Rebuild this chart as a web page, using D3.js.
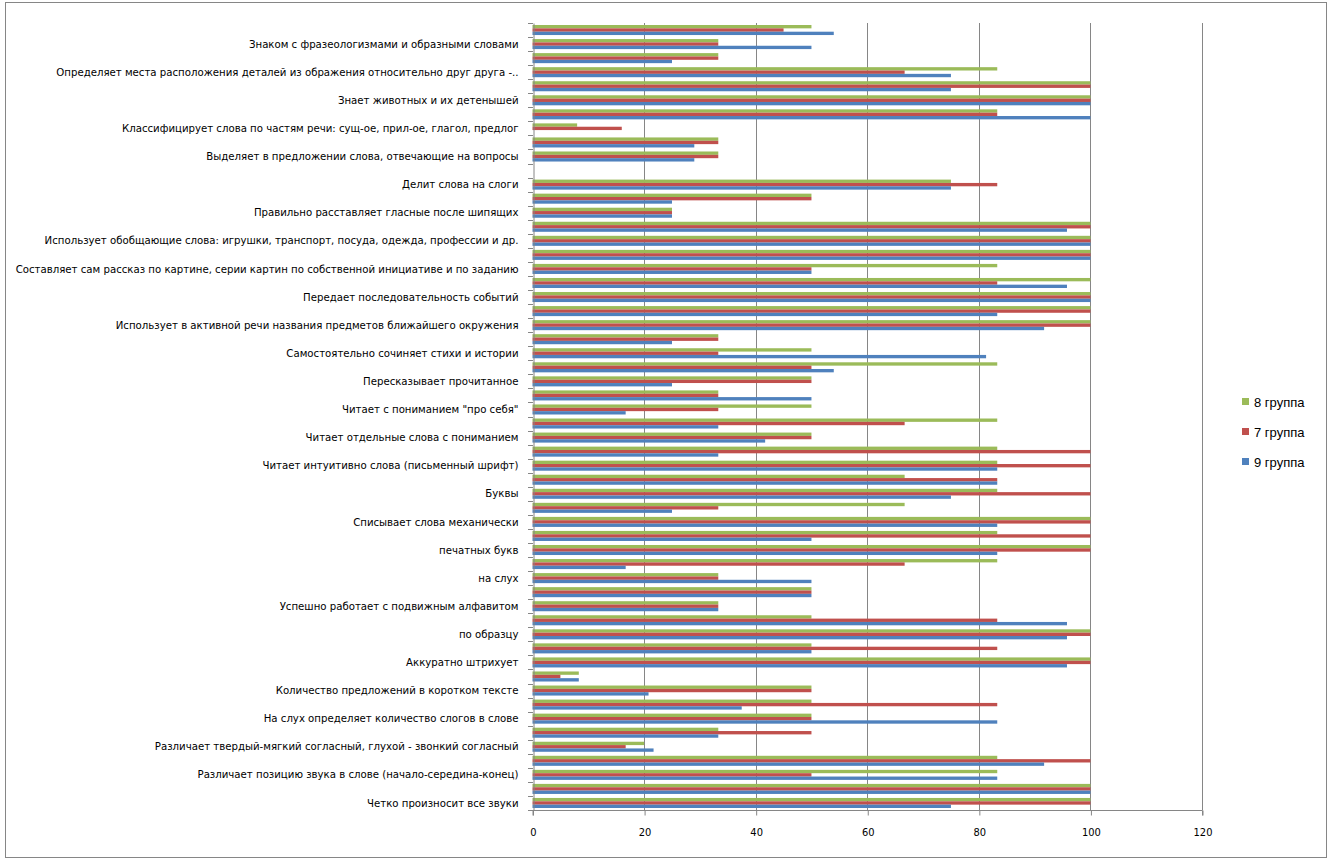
<!DOCTYPE html>
<html>
<head>
<meta charset="utf-8">
<script src="https://cdn.jsdelivr.net/npm/d3@7"></script>
<style>
  body { margin: 0; background: #fff; }
  svg text { fill: #000; }
</style>
</head>
<body>
<svg id="chart" width="1329" height="862"></svg>
<script>
// categories listed top to bottom as they appear; every second label is hidden in the original
const labels = [
  "", "Знаком с фразеологизмами и образными словами",
  "", "Определяет места расположения деталей из ображения относительно друг друга -..",
  "", "Знает животных и их детенышей",
  "", "Классифицирует слова по частям речи: сущ-ое, прил-ое, глагол, предлог",
  "", "Выделяет в предложении слова, отвечающие на вопросы",
  "", "Делит слова на слоги",
  "", "Правильно расставляет гласные после шипящих",
  "", "Использует обобщающие слова: игрушки, транспорт, посуда, одежда, профессии  и др.",
  "", "Составляет сам рассказ по картине, серии картин по собственной инициативе и по заданию",
  "", "Передает последовательность событий",
  "", "Использует в активной речи названия предметов ближайшего окружения",
  "", "Самостоятельно сочиняет стихи и истории",
  "", "Пересказывает прочитанное",
  "", "Читает с пониманием \"про себя\"",
  "", "Читает отдельные слова с пониманием",
  "", "Читает интуитивно слова (письменный шрифт)",
  "", "Буквы",
  "", "Списывает слова механически",
  "", "печатных букв",
  "", "на слух",
  "", "Успешно работает с подвижным алфавитом",
  "", "по образцу",
  "", "Аккуратно штрихует",
  "", "Количество предложений в коротком тексте",
  "", "На слух определяет количество слогов в слове",
  "", "Различает твердый-мягкий согласный, глухой - звонкий согласный",
  "", "Различает позицию звука в слове (начало-середина-конец)",
  "", "Четко произносит все звуки"
];

const group8 = [50, 33.3, 33.3, 83.3, 100, 100, 83.3, 8, 33.3, 33.3, 0, 75, 50, 25,
  100, 100, 100, 83.3, 100, 100, 100, 100, 33.3, 50, 83.3, 50, 33.3, 50, 83.3, 50,
  83.3, 83.3, 66.7, 83.3, 66.7, 100, 83.3, 100, 83.3, 33.3, 50, 33.3, 50, 100, 50,
  100, 8.3, 50, 50, 50, 33.3, 20, 83.3, 83.3, 100, 100];
const group7 = [45, 33.3, 33.3, 66.7, 100, 100, 83.3, 16, 33.3, 33.3, 0, 83.3, 50, 25,
  100, 100, 100, 50, 83.3, 100, 100, 100, 33.3, 33.3, 50, 50, 33.3, 33.3, 66.7, 50,
  100, 100, 83.3, 100, 33.3, 100, 100, 100, 66.7, 33.3, 50, 33.3, 83.3, 100, 83.3,
  100, 5, 50, 83.3, 50, 50, 16.7, 100, 50, 100, 100];
const group9 = [54, 50, 25, 75, 75, 100, 100, 0, 29, 29, 0, 75, 25, 25,
  95.8, 100, 100, 50, 95.8, 100, 83.3, 91.7, 25, 81.3, 54, 25, 50, 16.7, 33.3, 41.7,
  33.3, 83.3, 83.3, 75, 25, 83.3, 50, 83.3, 16.7, 50, 50, 33.3, 95.8, 95.8, 50,
  95.8, 8.3, 20.8, 37.5, 83.3, 33.3, 21.7, 91.7, 83.3, 100, 75];

const xTicks = [0, 20, 40, 60, 80, 100, 120];

// bars are stacked green / red / blue inside each category, legend lists them the same way
const series = [
  { name: "8 группа", color: "#9BBB59", values: group8 },
  { name: "7 группа", color: "#C0504D", values: group7 },
  { name: "9 группа", color: "#4F81BD", values: group9 }
];

const svg = d3.select("#chart");
const plot = { left: 532.5, right: 1202, top: 23, bottom: 810 };
const gridColor = "#868686";

// chart area border
svg.append("rect")
  .attr("x", 5.5).attr("y", 2.5)
  .attr("width", 1321).attr("height", 855)
  .attr("fill", "#fff")
  .attr("stroke", "#868686")
  .attr("stroke-width", 1);

let x = d3.scaleLinear().domain([0, 120]).range([plot.left, plot.right]);
let y = d3.scaleBand().domain(d3.range(labels.length)).range([plot.top, plot.bottom]);
let inner = d3.scaleBand().domain(d3.range(series.length))
  .range([0, y.bandwidth()]).paddingOuter(0.6);

// vertical gridlines
svg.append("g")
  .selectAll("line")
  .data(xTicks.slice(1))
  .join("line")
  .attr("x1", (d) => Math.round(x(d)) + 0.5)
  .attr("x2", (d) => Math.round(x(d)) + 0.5)
  .attr("y1", plot.top)
  .attr("y2", plot.bottom)
  .attr("stroke", gridColor)
  .attr("stroke-width", 1);

// bars
series.forEach((s, si) => {
  svg.append("g")
    .selectAll("rect")
    .data(s.values)
    .join("rect")
    .attr("x", x(0))
    .attr("y", (d, i) => y(i) + inner(si))
    .attr("width", (d) => x(d) - x(0))
    .attr("height", inner.bandwidth())
    .attr("fill", s.color);
});

// category axis
let yAxis = d3.axisLeft(y).tickSize(0).tickFormat((i) => labels[i]).tickPadding(15);
let yg = svg.append("g")
  .attr("transform", `translate(${Math.round(plot.left) + 0.5},0)`)
  .call(yAxis);
yg.select(".domain").attr("stroke", gridColor);
yg.selectAll("text")
  .style("font-family", "'Liberation Sans Narrow', 'DejaVu Sans Condensed', sans-serif")
  .style("font-size", "11.3px");

// tick marks between categories
svg.append("g")
  .selectAll("line")
  .data(d3.range(labels.length + 1))
  .join("line")
  .attr("x1", Math.round(plot.left) - 5)
  .attr("x2", Math.round(plot.left))
  .attr("y1", (i) => Math.round(plot.top + i * y.step()) + 0.5)
  .attr("y2", (i) => Math.round(plot.top + i * y.step()) + 0.5)
  .attr("stroke", gridColor);

// value axis
let xAxis = d3.axisBottom(x).tickValues(xTicks).tickSize(5).tickPadding(13);
let xg = svg.append("g")
  .attr("transform", `translate(0.5,${Math.round(plot.bottom) + 0.5})`)
  .call(xAxis);
xg.selectAll("line, .domain").attr("stroke", gridColor);
xg.select(".domain").attr("d", `M${plot.left},5V0H${plot.right}V5`);
xg.selectAll("text")
  .style("font-family", "'Liberation Sans Narrow', 'DejaVu Sans Condensed', sans-serif")
  .style("font-size", "11px");

// legend
let legend = svg.append("g").attr("transform", "translate(1242,402)");
series.forEach((s, i) => {
  let row = legend.append("g").attr("transform", `translate(0,${i * 30})`);
  row.append("rect")
    .attr("x", 0).attr("y", -4)
    .attr("width", 7).attr("height", 7)
    .attr("fill", s.color);
  row.append("text")
    .attr("x", 12).attr("y", 0)
    .attr("dy", "0.35em")
    .style("font-family", "'Liberation Sans', sans-serif")
    .style("font-size", "13px")
    .text(s.name);
});
</script>
</body>
</html>
